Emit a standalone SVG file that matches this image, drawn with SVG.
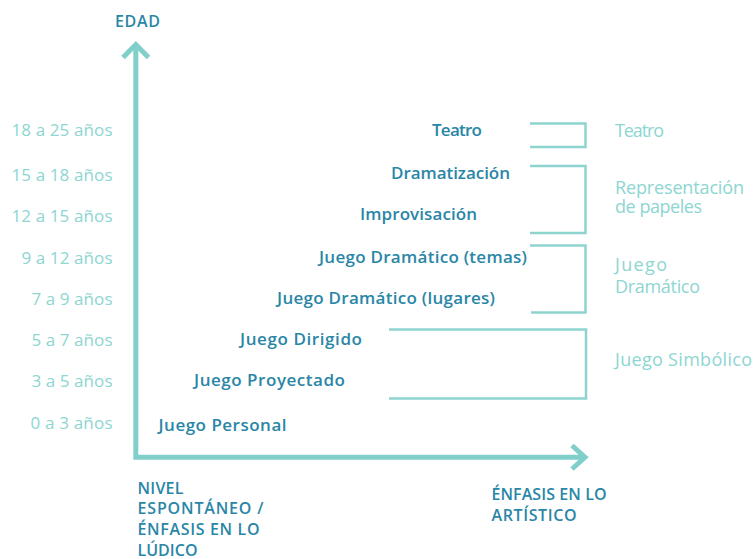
<svg xmlns="http://www.w3.org/2000/svg" width="756" height="559" viewBox="0 0 756 559">
<style>
  text { font-family: "Open Sans", "Liberation Sans", sans-serif; }
  .age { font-size: 17px; fill: #8dd6d1; text-anchor: end; }
  .stage { font-size: 17px; font-weight: 600; fill: #2a86a6; }
  .cat { font-size: 18px; fill: #8dd6d1; }
  .axislbl { font-size: 16px; font-weight: 600; fill: #2a86a6; }
  .axis { fill: none; stroke: #80cfca; stroke-width: 5; }
  .bracket { fill: none; stroke: #8dd3ce; stroke-width: 2.5; }
</style>
<rect width="756" height="559" fill="#ffffff"/>
<g id="connectors">
  <path class="axis" d="M135.8,46 V457.3 H584" stroke-linejoin="miter"/>
  <path class="axis" d="M123,57.5 L135.8,44.5 L148.5,57.5"/>
  <path class="axis" d="M572,445.5 L585,457.3 L572,469"/>
  <path class="bracket" d="M530,123.5 H585.5 V147 H530"/>
  <path class="bracket" d="M530,166 H585.5 V233 H530"/>
  <path class="bracket" d="M530,245.5 H585.5 V312.5 H531"/>
  <path class="bracket" d="M389,329.5 H586 V398.5 H389"/>
</g>
<g id="axis-y-label"><text class="axislbl" x="115" y="27" textLength="45">EDAD</text></g>
<g id="ages">
  <text class="age" x="112.5" y="136" textLength="101">18 a 25 años</text>
  <text class="age" x="112.5" y="180.5" textLength="101">15 a 18 años</text>
  <text class="age" x="112.5" y="222" textLength="101">12 a 15 años</text>
  <text class="age" x="112.5" y="263.5" textLength="91">9 a 12 años</text>
  <text class="age" x="112.5" y="305" textLength="81">7 a 9 años</text>
  <text class="age" x="112.5" y="346" textLength="81">5 a 7 años</text>
  <text class="age" x="112.5" y="387" textLength="81">3 a 5 años</text>
  <text class="age" x="112.5" y="429" textLength="82">0 a 3 años</text>
</g>
<g id="stage-teatro"><text class="stage" x="432" y="136" textLength="50">Teatro</text></g>
<g id="stage-dramatizacion"><text class="stage" x="391" y="178.5" textLength="119">Dramatización</text></g>
<g id="stage-improvisacion"><text class="stage" x="360" y="220" textLength="117">Improvisación</text></g>
<g id="stage-jd-temas"><text class="stage" x="319" y="262.5" textLength="208">Juego Dramático (temas)</text></g>
<g id="stage-jd-lugares"><text class="stage" x="277" y="304" textLength="218">Juego Dramático (lugares)</text></g>
<g id="stage-dirigido"><text class="stage" x="240" y="345" textLength="122">Juego Dirigido</text></g>
<g id="stage-proyectado"><text class="stage" x="194" y="386" textLength="151">Juego Proyectado</text></g>
<g id="stage-personal"><text class="stage" x="158.5" y="431" textLength="128">Juego Personal</text></g>
<g id="cat-teatro"><text class="cat" x="615" y="136.5" textLength="49">Teatro</text></g>
<g id="cat-representacion">
  <text class="cat" x="615" y="194" textLength="129">Representación</text>
  <text class="cat" x="615" y="213" textLength="87">de papeles</text>
</g>
<g id="cat-juego-dramatico">
  <text class="cat" x="615" y="271" textLength="52">Juego</text>
  <text class="cat" x="615" y="292.5" textLength="85">Dramático</text>
</g>
<g id="cat-juego-simbolico"><text class="cat" x="615" y="366" textLength="137">Juego Simbólico</text></g>
<g id="axis-x-left-label">
  <text class="axislbl" x="137.5" y="493.5" textLength="46">NIVEL</text>
  <text class="axislbl" x="137.5" y="514" textLength="126">ESPONTÁNEO /</text>
  <text class="axislbl" x="137.5" y="535" textLength="122">ÉNFASIS EN LO</text>
  <text class="axislbl" x="137.5" y="555.5" textLength="60">LÚDICO</text>
</g>
<g id="axis-x-right-label">
  <text class="axislbl" x="491.5" y="500" textLength="115">ÉNFASIS EN LO</text>
  <text class="axislbl" x="491.5" y="521" textLength="85">ARTÍSTICO</text>
</g>
</svg>
